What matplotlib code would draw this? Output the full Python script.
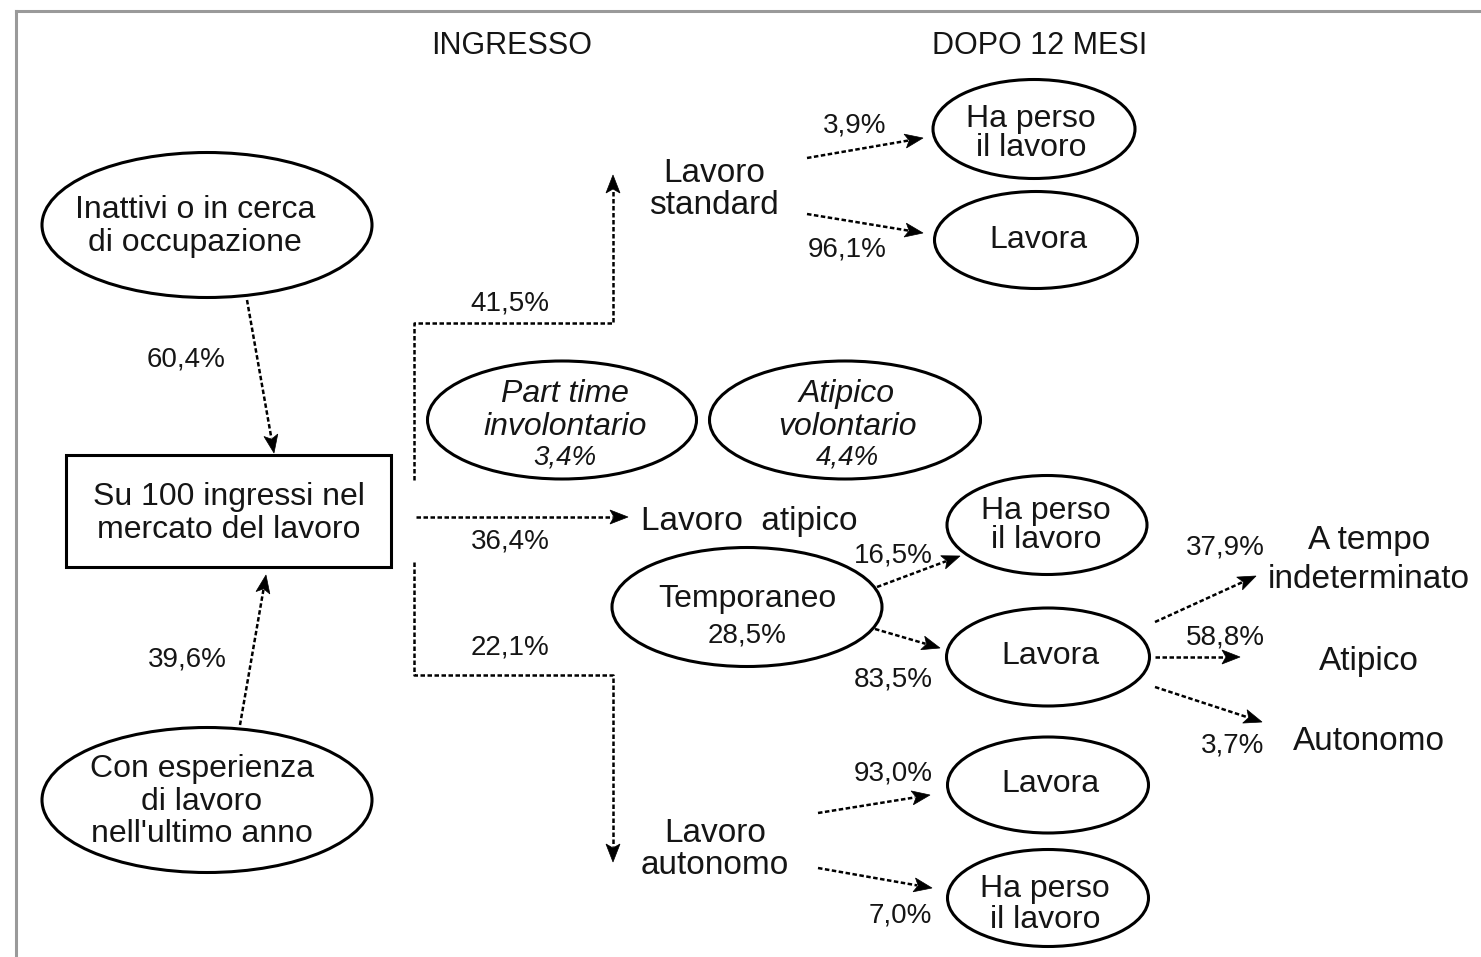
import numpy as np
import matplotlib
matplotlib.use('Agg')
import matplotlib.pyplot as plt
import matplotlib.patches as mpatches

plt.rcParams['font.family'] = ['Liberation Sans', 'DejaVu Sans']

# --- data ---
headers = ['INGRESSO', 'DOPO 12 MESI']
origin_labels = ['Inattivi o in cerca\ndi occupazione', "Con esperienza\ndi lavoro\nnell'ultimo anno"]
origin_pct = [60.4, 39.6]
centre_label = 'Su 100 ingressi nel\nmercato del lavoro'
entry_labels = ['Lavoro\nstandard', 'Lavoro  atipico', 'Lavoro\nautonomo']
entry_pct = [41.5, 36.4, 22.1]
standard_out = ['Ha perso\nil lavoro', 'Lavora']
standard_pct = [3.9, 96.1]
atipico_sub = ['Part time\ninvolontario', 'Atipico\nvolontario', 'Temporaneo']
atipico_sub_pct = [3.4, 4.4, 28.5]
temp_out = ['Ha perso\nil lavoro', 'Lavora']
temp_pct = [16.5, 83.5]
lavora_out = ['A tempo\nindeterminato', 'Atipico', 'Autonomo']
lavora_pct = [37.9, 58.8, 3.7]
autonomo_out = ['Lavora', 'Ha perso\nil lavoro']
autonomo_pct = [93.0, 7.0]


def pct(v):
    return f'{v:.1f}'.replace('.', ',') + '%'


fig = plt.figure(figsize=(14.81, 9.57), dpi=100)
ax = fig.add_axes([0, 0, 1, 1])
ax.set_xlim(0, 1481)
ax.set_ylim(957, 0)
ax.axis('off')

INK = '#151515'
DOT = (0, (1.8, 1.0))
LW = 1.8
NODE_FS = 23
FREE_FS = 24
PCT_FS = 20


def label(x, y, text, size=NODE_FS, step=32, style='normal', ha='center'):
    lines = text.split('\n')
    n = len(lines)
    for i, line in enumerate(lines):
        ax.text(x, y + (i - (n - 1) / 2) * step, line, ha=ha, va='center_baseline',
                fontsize=size, style=style, color=INK)


def pct_text(x, y, v, size=PCT_FS, style='normal'):
    ax.text(x, y, pct(v), ha='center', va='center_baseline', fontsize=size, style=style, color=INK)


def ellipse(x, y, w, h):
    ax.add_patch(mpatches.Ellipse((x, y), w, h, fill=False, lw=2.2, ec='black'))


def flow(points):
    # dotted path, filled head on the last segment
    pts = np.array(points, dtype=float)
    d = pts[-1] - pts[-2]
    d = d / np.hypot(*d)
    tip = pts[-1].copy()
    base = tip - d * 18
    nrm = np.array([-d[1], d[0]])
    pts[-1] = base + d * 3
    ax.plot(pts[:, 0], pts[:, 1], color='black', lw=LW, linestyle=DOT)
    ax.add_patch(mpatches.Polygon([tip, base + nrm * 7, base + d * 4, base - nrm * 7],
                                  closed=True, fc='black', ec='black', lw=0.5))


# frame
ax.plot([16, 16], [957, 11], color='#9a9a9a', lw=2.2)
ax.plot([16, 1481], [11, 11], color='#9a9a9a', lw=2.2)

# headers
label(512, 43, headers[0], size=22)
label(1040, 43, headers[1], size=22)

# origins
ellipse(207, 225, 330, 145)
label(195, 223, origin_labels[0], step=33)
ellipse(207, 800, 330, 145)
label(202, 798, origin_labels[1], step=32)
ax.add_patch(mpatches.Rectangle((66, 455), 325, 112, fill=False, lw=2.2, ec='black'))
label(229, 510, centre_label, step=33)

flow([(247, 300), (274, 453)])
pct_text(186, 357, origin_pct[0])
flow([(240, 725), (266, 575)])
pct_text(187, 656, origin_pct[1])

# entry branches
flow([(414, 480), (414, 323), (613, 323), (613, 175)])
pct_text(510, 300, entry_pct[0])
flow([(416, 517), (628, 517)])
pct_text(510, 538, entry_pct[1])
flow([(414, 562), (414, 675), (613, 675), (613, 862)])
pct_text(510, 644, entry_pct[2])

label(714, 186, entry_labels[0], size=FREE_FS, step=32)
label(641, 518, entry_labels[1], size=FREE_FS, ha='left')
label(715, 846, entry_labels[2], size=FREE_FS, step=32)

# lavoro standard
ellipse(1034, 129, 202, 99)
label(1031, 130, standard_out[0], step=30)
ellipse(1036, 240, 203, 97)
label(1038, 237, standard_out[1])
flow([(807, 158), (923, 138)])
flow([(807, 214), (923, 233)])
pct_text(855, 122, standard_pct[0])
pct_text(847, 247, standard_pct[1])

# lavoro atipico
ellipse(562, 420, 269, 118)
label(565, 407, atipico_sub[0], step=33, style='italic')
pct_text(565, 455, atipico_sub_pct[0], style='italic')
ellipse(845, 420, 271, 118)
label(847, 407, atipico_sub[1], step=33, style='italic')
pct_text(847, 455, atipico_sub_pct[1], style='italic')
ellipse(747, 607, 270, 119)
label(747, 596, atipico_sub[2])
pct_text(747, 632, atipico_sub_pct[2])

ellipse(1047, 525, 200, 99)
label(1046, 522, temp_out[0], step=30)
ellipse(1048, 657, 203, 98)
label(1050, 653, temp_out[1])
flow([(877, 587), (960, 556)])
flow([(875, 629), (940, 648)])
pct_text(893, 552, temp_pct[0])
pct_text(893, 677, temp_pct[1])

# dopo 12 mesi dal temporaneo
label(1369, 557, lavora_out[0], size=FREE_FS, step=39)
label(1369, 658, lavora_out[1], size=FREE_FS)
label(1369, 738, lavora_out[2], size=FREE_FS)
flow([(1155, 622), (1256, 576)])
flow([(1155, 657), (1240, 657)])
flow([(1155, 687), (1262, 722)])
pct_text(1225, 545, lavora_pct[0])
pct_text(1225, 634, lavora_pct[1])
pct_text(1233, 743, lavora_pct[2])

# lavoro autonomo
ellipse(1048, 785, 201, 96)
label(1050, 781, autonomo_out[0])
ellipse(1048, 898, 201, 97)
label(1045, 901, autonomo_out[1], step=30)
flow([(818, 813), (930, 795)])
flow([(818, 868), (932, 888)])
pct_text(893, 770, autonomo_pct[0])
pct_text(900, 912, autonomo_pct[1])

fig.savefig('out.png', dpi=100)
